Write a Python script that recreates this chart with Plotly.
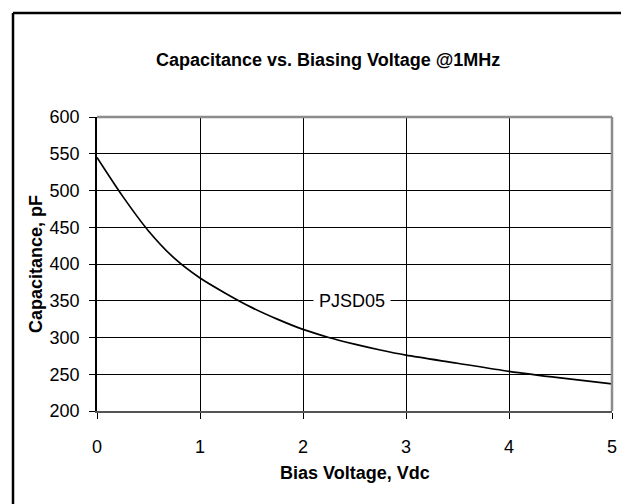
import plotly.graph_objects as go

bias_v = [0, 0.25, 0.5, 0.75, 1, 1.25, 1.5, 1.75, 2, 2.25, 2.5, 2.75, 3, 3.5, 4, 4.5, 5]
cap_pf = [545, 492, 445, 408, 381, 360, 341, 325, 311, 300, 291, 283, 276, 265, 254, 245, 237]
x_ticks = [0, 1, 2, 3, 4, 5]
y_ticks = [200, 250, 300, 350, 400, 450, 500, 550, 600]

FONT = "Liberation Sans, Arial, sans-serif"

W, H = 629, 504
L, R, T, B = 89, 25, 109, 101
PW, PH = W - L - R, H - T - B

def px(xpix):
    return (xpix - L) / PW

def py(ypix):
    return (H - B - ypix) / PH

fig = go.Figure()
fig.add_trace(go.Scatter(
    x=bias_v, y=cap_pf, mode="lines",
    line=dict(color="black", width=1.7, shape="spline", smoothing=0.8),
    showlegend=False, hoverinfo="skip",
))

fig.update_layout(
    width=W, height=H,
    margin=dict(l=L, r=R, t=T, b=B, pad=0),
    paper_bgcolor="white", plot_bgcolor="white",
    font=dict(family=FONT, size=18, color="black"),
    xaxis=dict(
        range=[0, 5], tickvals=x_ticks, ticktext=[str(v) for v in x_ticks],
        showgrid=True, gridcolor="black", gridwidth=1,
        ticks="outside", ticklen=6, tickcolor="black", tickwidth=1,
        ticklabelstandoff=12,
        showline=True, linecolor="#555", linewidth=2, mirror=False,
        zeroline=False, fixedrange=True,
    ),
    yaxis=dict(
        range=[200, 600], tickvals=y_ticks, ticktext=[str(v) for v in y_ticks],
        showgrid=True, gridcolor="black", gridwidth=1,
        ticks="outside", ticklen=6, tickcolor="black", tickwidth=1.2,
        ticklabelstandoff=6,
        showline=True, linecolor="black", linewidth=1.5, mirror=False,
        zeroline=False, fixedrange=True,
    ),
    shapes=[
        dict(type="line", xref="paper", yref="paper", x0=0, x1=1, y0=1, y1=1,
             line=dict(color="#8c8c8c", width=2.5)),
        dict(type="line", xref="paper", yref="paper", x0=1, x1=1, y0=0, y1=1,
             line=dict(color="#8c8c8c", width=2.5)),
        dict(type="line", xref="paper", yref="paper", x0=px(5), x1=px(W), y0=py(5), y1=py(5),
             line=dict(color="black", width=2.5)),
        dict(type="line", xref="paper", yref="paper", x0=px(5), x1=px(5), y0=py(5), y1=py(H),
             line=dict(color="black", width=2.5)),
    ],
    annotations=[
        dict(text="<b>Capacitance vs. Biasing Voltage @1MHz</b>", xref="paper", yref="paper",
             x=px(320), y=py(52), showarrow=False, xanchor="center", yanchor="middle",
             font=dict(size=18, family=FONT)),
        dict(text="<b>Bias Voltage, Vdc</b>", xref="paper", yref="paper",
             x=0.5, y=py(465), showarrow=False, xanchor="center", yanchor="middle",
             font=dict(size=18, family=FONT)),
        dict(text="<b>Capacitance, pF</b>", xref="paper", yref="paper",
             x=px(28), y=0.5, showarrow=False, xanchor="center", yanchor="middle",
             textangle=-90, font=dict(size=18, family=FONT)),
        dict(text="PJSD05", xref="x", yref="y", x=2.48, y=350, showarrow=False,
             bgcolor="white", borderpad=5, xanchor="center", yanchor="middle",
             font=dict(size=18, family=FONT)),
    ],
)

fig.write_html("out.html")
